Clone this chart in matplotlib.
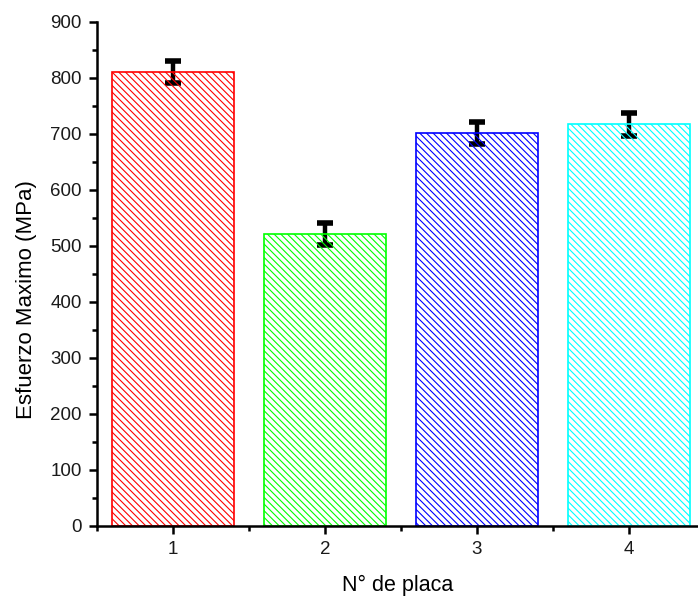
import matplotlib
matplotlib.use("Agg")
import matplotlib.pyplot as plt
from matplotlib.ticker import MultipleLocator

# data
placas = [1, 2, 3, 4]
esfuerzo = [811, 521, 702, 717]
error = [20, 20, 20, 20]
colores = ['#ff0000', '#00ff00', '#0000ff', '#00ffff']

plt.rcParams['font.family'] = ['Liberation Sans', 'DejaVu Sans']
plt.rcParams['hatch.linewidth'] = 0.8

fig = plt.figure(figsize=(6.98, 6.0), dpi=100)
ax = fig.add_axes([97 / 698, 74 / 600, 601 / 698, 504 / 600])

# error bars first so the hatch runs over their lower half
ax.errorbar(placas, esfuerzo, yerr=error, fmt='none', ecolor='black',
            elinewidth=3.2, capsize=5.5, capthick=4, zorder=1)

for x, y, c in zip(placas, esfuerzo, colores):
    ax.bar(x, y, width=0.8, color='none', edgecolor=c, hatch='\\' * 5,
           linewidth=1.2, zorder=2)

ax.set_xlim(0.5, 0.5 + 601 / 152)
ax.set_ylim(0, 900)
ax.set_xticks(placas)
ax.xaxis.set_minor_locator(MultipleLocator(0.5))
ax.yaxis.set_major_locator(MultipleLocator(100))
ax.yaxis.set_minor_locator(MultipleLocator(50))

ax.spines['top'].set_visible(False)
ax.spines['right'].set_visible(False)
for s in ('left', 'bottom'):
    ax.spines[s].set_linewidth(1.8)

ax.tick_params(which='major', direction='out', length=6, width=1.8,
               labelsize=13.5, labelcolor='#1a1a1a', pad=5)
ax.tick_params(which='minor', direction='out', length=3.5, width=1.8)

ax.set_ylabel('Esfuerzo Maximo (MPa)', fontsize=16)
ax.yaxis.set_label_coords(-0.1, 0.45)
ax.set_xlabel('N° de placa', fontsize=15.5, labelpad=12)

fig.savefig('out.png', dpi=100, facecolor='white')
